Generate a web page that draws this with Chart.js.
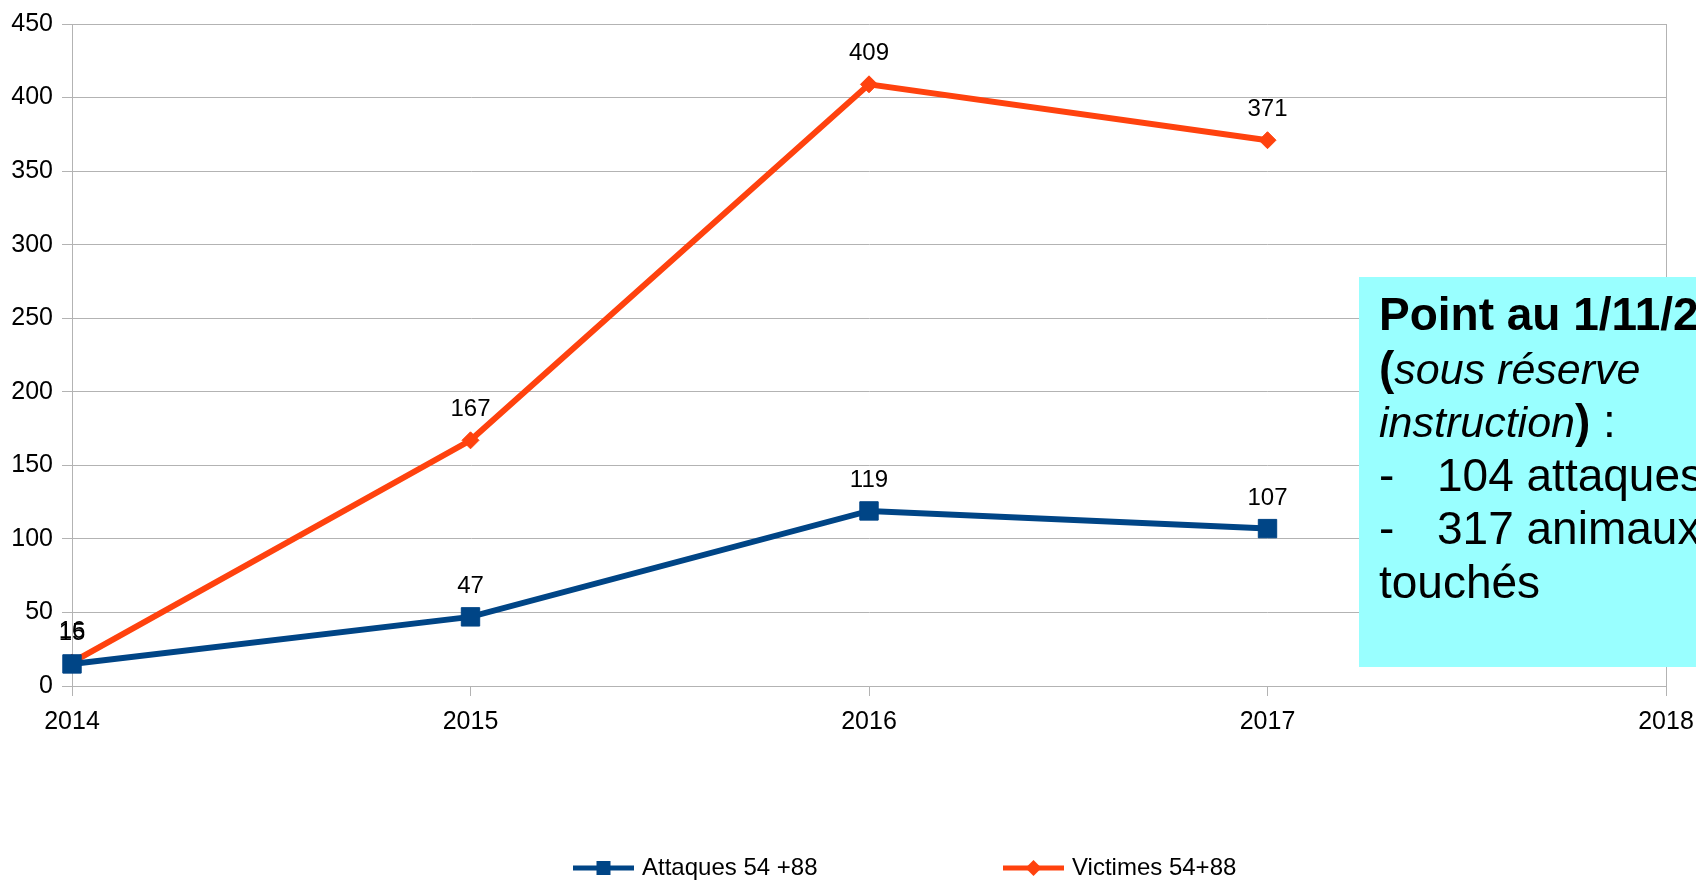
<!DOCTYPE html>
<html>
<head>
<meta charset="utf-8">
<script src="https://cdn.jsdelivr.net/npm/chart.js@4/dist/chart.umd.min.js"></script>
<style>
  html, body { margin: 0; padding: 0; background: #fff; overflow: hidden; }
</style>
</head>
<body>
<canvas id="myChart" width="1696" height="880"></canvas>
<script>
var years = ['2014', '2015', '2016', '2017', '2018'];
var attaques = [15, 47, 119, 107];
var victimes = [16, 167, 409, 371];
var seriesNames = ['Attaques 54 +88', 'Victimes 54+88'];
var seriesColors = ['#004586', '#ff420e'];

// encart "Point au 1/11/2017"
var noteLines = [
  [['Point au 1/11/2017', 'bold']],
  [['(', 'bold'], ['sous réserve', 'italic']],
  [['instruction', 'italic'], [')', 'bold'], [' :', '']],
  [['-', ''], ['\t104 attaques', '']],
  [['-', ''], ['\t317 animaux', '']],
  [['touchés', '']]
];

var FONT = '"Liberation Sans", Arial, sans-serif';
var GRID = '#b3b3b3';

var valueLabels = {
  id: 'valueLabels',
  afterDatasetsDraw: function (chart) {
    var ctx = chart.ctx;
    ctx.save();
    ctx.font = '24px ' + FONT;
    ctx.fillStyle = '#000';
    ctx.textAlign = 'center';
    ctx.textBaseline = 'alphabetic';
    chart.data.datasets.forEach(function (ds, i) {
      chart.getDatasetMeta(i).data.forEach(function (pt, j) {
        ctx.fillText(String(ds.data[j]), pt.x, pt.y - 24);
      });
    });
    ctx.restore();
  }
};

var bottomLegend = {
  id: 'bottomLegend',
  afterDraw: function (chart) {
    var ctx = chart.ctx;
    var xs = [573, 1003];
    var y = 868;
    ctx.save();
    chart.data.datasets.forEach(function (ds, i) {
      var x = xs[i];
      ctx.strokeStyle = ds.borderColor;
      ctx.fillStyle = ds.borderColor;
      ctx.lineWidth = 5;
      ctx.beginPath();
      ctx.moveTo(x, y);
      ctx.lineTo(x + 61, y);
      ctx.stroke();
      var cx = x + 30.5;
      ctx.beginPath();
      if (ds.pointStyle === 'rect') {
        ctx.rect(cx - 7, y - 7, 14, 14);
      } else {
        ctx.moveTo(cx, y - 8);
        ctx.lineTo(cx + 8, y);
        ctx.lineTo(cx, y + 8);
        ctx.lineTo(cx - 8, y);
        ctx.closePath();
      }
      ctx.fill();
      ctx.fillStyle = '#000';
      ctx.font = '24px ' + FONT;
      ctx.textBaseline = 'middle';
      ctx.textAlign = 'left';
      ctx.fillText(ds.label, x + 69, y);
    });
    ctx.restore();
  }
};

var noteBox = {
  id: 'noteBox',
  afterDraw: function (chart) {
    var ctx = chart.ctx;
    ctx.save();
    ctx.fillStyle = '#99ffff';
    ctx.fillRect(1359, 277, 400, 390);
    ctx.fillStyle = '#000';
    ctx.textBaseline = 'alphabetic';
    ctx.textAlign = 'left';
    noteLines.forEach(function (line, li) {
      var x = 1379;
      var y = 330 + li * 53.6;
      line.forEach(function (seg) {
        var t = seg[0];
        var size = seg[1] === 'italic' ? 43 : 46;
        ctx.font = (seg[1] ? seg[1] + ' ' : '') + size + 'px ' + FONT;
        if (t.charAt(0) === '\t') {
          x = 1437;
          t = t.substring(1);
        }
        ctx.fillText(t, x, y);
        x += ctx.measureText(t).width;
      });
    });
    ctx.restore();
  }
};

var ctx = document.getElementById('myChart').getContext('2d');

var myChart = new Chart(ctx, {
  type: 'line',
  data: {
    labels: years,
    datasets: [
      {
        label: seriesNames[0],
        data: attaques,
        borderColor: seriesColors[0],
        backgroundColor: seriesColors[0],
        borderWidth: 6,
        pointStyle: 'rect',
        pointRadius: 13,
        pointBorderWidth: 1,
        tension: 0,
        clip: false
      },
      {
        label: seriesNames[1],
        data: victimes,
        borderColor: seriesColors[1],
        backgroundColor: seriesColors[1],
        borderWidth: 6,
        pointStyle: 'rectRot',
        pointRadius: 8.5,
        pointBorderWidth: 1,
        tension: 0,
        clip: false
      }
    ]
  },
  options: {
    responsive: false,
    animation: false,
    layout: { autoPadding: false, padding: { left: 0, right: 30, top: 24, bottom: 0 } },
    plugins: {
      legend: { display: false },
      tooltip: { enabled: false }
    },
    scales: {
      x: {
        type: 'category',
        offset: false,
        grid: {
          color: function (c) {
            return (c.index === 0 || c.index === years.length - 1) ? GRID : 'rgba(0,0,0,0)';
          },
          tickColor: GRID,
          tickLength: 10
        },
        border: { color: GRID },
        ticks: {
          color: '#000',
          font: { family: FONT, size: 25 },
          padding: 11,
          maxRotation: 0,
          autoSkip: false
        },
        afterFit: function (s) {
          s.height = 194;
          // le libellé 2018 peut déborder à droite, comme sur l'original
          s.paddingLeft = 0;
          s.paddingRight = 0;
        }
      },
      y: {
        min: 0,
        max: 450,
        grid: { color: GRID, tickLength: 10 },
        border: { color: GRID },
        ticks: {
          stepSize: 50,
          color: '#000',
          font: { family: FONT, size: 25 },
          padding: 9
        },
        afterFit: function (s) { s.width = 72; }
      }
    }
  },
  plugins: [valueLabels, noteBox, bottomLegend]
});
</script>
</body>
</html>
